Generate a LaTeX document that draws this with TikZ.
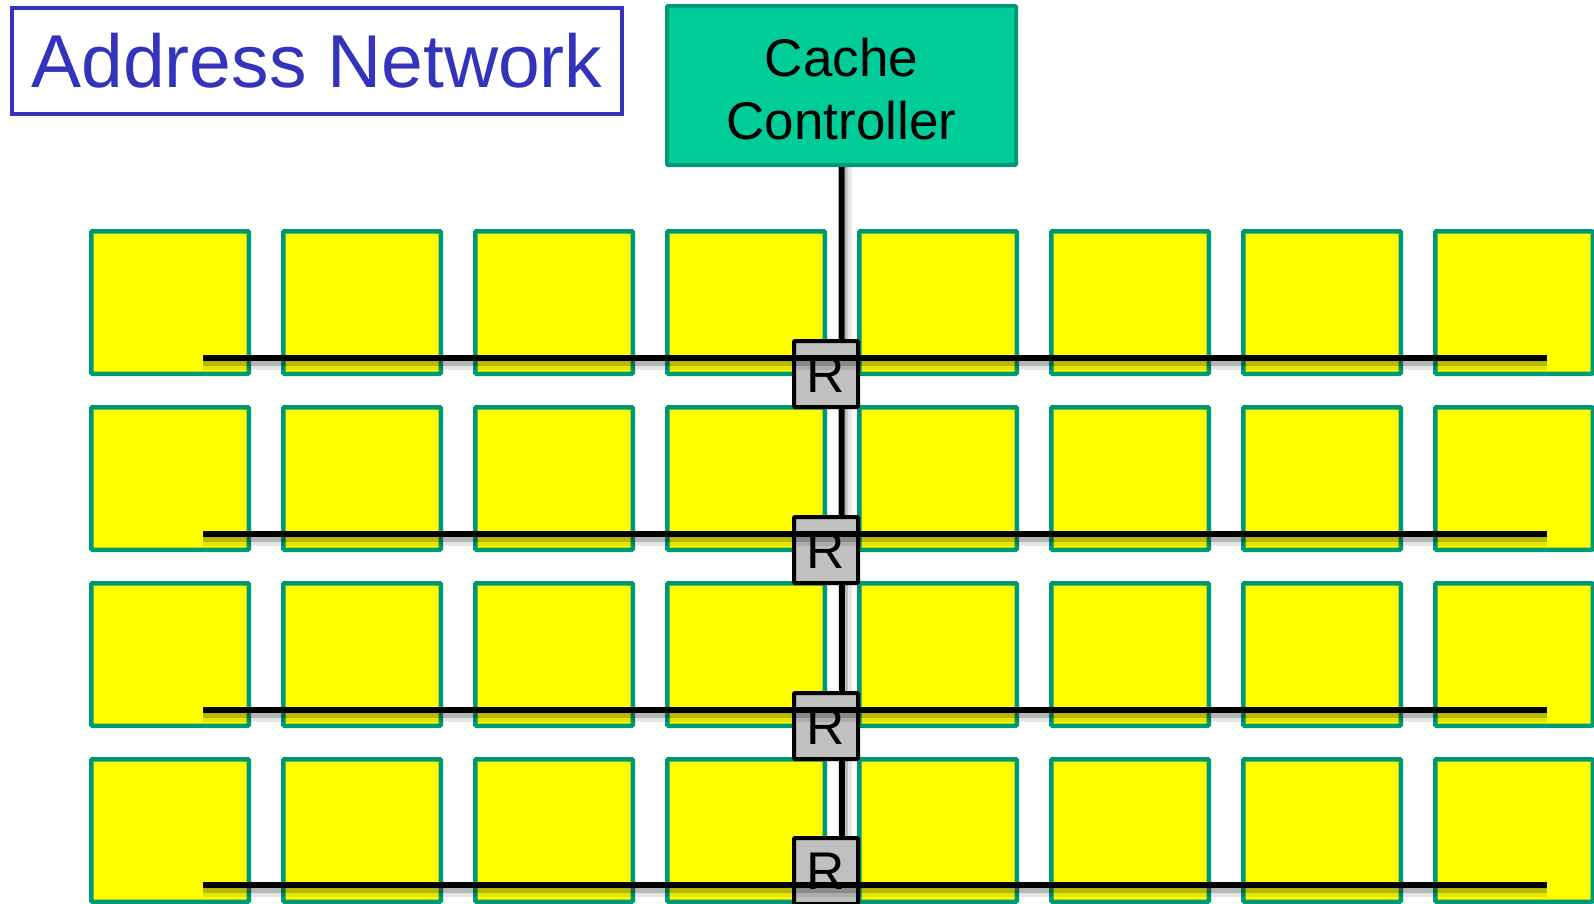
\documentclass[tikz,border=0pt]{standalone}
\usepackage{fontspec}
\setmainfont{Liberation Sans}
\definecolor{tileyellow}{HTML}{FFFF00}
\definecolor{tileedge}{HTML}{009977}
\definecolor{ccfill}{HTML}{00CC99}
\definecolor{netblue}{HTML}{3333BB}
\definecolor{routergray}{HTML}{C0C0C0}

\begin{document}
\begin{tikzpicture}[x=1pt,y=-1pt,
  tile/.style={draw=tileedge, fill=tileyellow, line width=4.5pt,
    minimum width=157.5pt, minimum height=142.5pt, inner sep=0pt, rounded corners=1pt},
  router/.style={draw=black, fill=routergray, line width=4pt,
    minimum width=64pt, minimum height=66pt, inner sep=0pt, rounded corners=1pt,
    font=\fontsize{53}{63}\selectfont},
  ctrl/.style={draw=tileedge, fill=ccfill, line width=4pt,
    minimum width=349pt, minimum height=159pt, inner sep=0pt, rounded corners=1pt,
    align=center, font=\fontsize{53}{63}\selectfont},
  title/.style={draw=netblue, fill=white, line width=3.5pt, text=netblue,
    minimum width=610pt, minimum height=106pt, inner sep=0pt,
    font=\fontsize{75}{90}\selectfont},
  hbus/.style={draw=black, line width=6pt,
    preaction={draw=black, opacity=0.10, line width=12pt,
      transform canvas={yshift=-6pt}},
    preaction={draw=black, opacity=0.20, line width=6pt,
      transform canvas={yshift=-5pt}}},
  vbus/.style={draw=black, line width=6pt,
    preaction={draw=black, opacity=0.10, line width=12pt,
      transform canvas={xshift=4pt}},
    preaction={draw=black, opacity=0.18, line width=6pt,
      transform canvas={xshift=3pt}}}
]
\useasboundingbox (0,0) rectangle (1594,903);

% grid of yellow tiles
\foreach \r in {0,...,3}{
  \foreach \c in {0,...,7}{
    \node[tile] (t-\r-\c) at ({170+192*\c},{302.5+176*\r}) {};
  }
}

% title and cache controller
\node[title] (title) at (317,61) {Address Network};
\node[ctrl] (cc) at (841.5,85.5) {};
\node[align=center, inner sep=0pt, font=\fontsize{53}{63}\selectfont]
  (cctext) at (841.5,89) {Cache\\Controller};

% vertical bus from the controller down the column
\coordinate (vbot) at (842,905);
\draw[vbus] (cc.south) -- (vbot);

% routers on the vertical bus
\node[router] (r1) at (826,374) {R};
\node[router] (r2) at (826,550) {R};
\node[router] (r3) at (826,726) {R};
\node[router] (r4) at (826,871) {R};

% horizontal row buses
\foreach \i/\y in {1/358,2/534,3/710,4/885}{
  \coordinate (hw\i) at (203,\y);
  \coordinate (he\i) at (1547,\y);
  \draw[hbus] (hw\i) -- (he\i);
}
\end{tikzpicture}
\end{document}
